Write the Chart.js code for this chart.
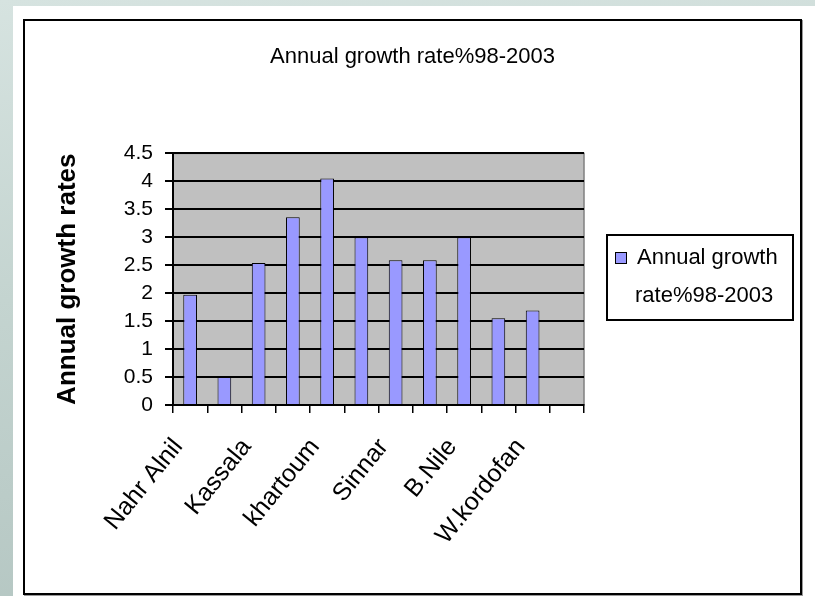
<!DOCTYPE html>
<html>
<head>
<meta charset="utf-8">
<script src="https://cdn.jsdelivr.net/npm/chart.js@4.4.1/dist/chart.umd.min.js"></script>
<style>
  html, body { margin: 0; padding: 0; }
  body {
    width: 815px; height: 596px; overflow: hidden; position: relative;
    background: linear-gradient(175deg, #d6e3e0 0%, #c4d4d0 45%, #b3c5c1 100%);
  }
  .sheet {
    position: absolute; left: 13px; top: 6px; right: 0; bottom: 0;
    background: #fff;
  }
  .frame {
    position: absolute; left: 23px; top: 19px; width: 775px; height: 572px;
    border: 2px solid #000; background: #fff;
    box-shadow: 1px 1px 0 #999;
  }
  canvas { display: block; }
</style>
</head>
<body>
<div class="sheet"></div>
<div class="frame"><canvas id="chart" width="775" height="572"></canvas></div>
<script>
// states along the x axis (only every other name is printed)
const states = ['Nahr Alnil', 'Red Sea', 'Kassala', 'Gedarif', 'khartoum', 'Gezira',
                'Sinnar', 'W.Nile', 'B.Nile', 'N.kordofan', 'W.kordofan', 'S.kordofan'];
const growthRates = [1.97, 0.5, 2.54, 3.36, 4.05, 3.0, 2.59, 2.59, 3.0, 1.55, 1.69, null];
const yTicks = [0, 0.5, 1, 1.5, 2, 2.5, 3, 3.5, 4, 4.5];
const seriesName = 'Annual growth rate%98-2003';

const FONT = 'Arial, "Liberation Sans", sans-serif';
const BAR_FILL = '#9999ff';

// grey plot area like an old spreadsheet chart
const plotBackground = {
  id: 'plotBackground',
  beforeDraw(chart) {
    const { ctx, chartArea: a } = chart;
    ctx.save();
    ctx.fillStyle = '#c0c0c0';
    ctx.fillRect(a.left, a.top, a.right - a.left, a.bottom - a.top);
    ctx.strokeStyle = '#808080';
    ctx.lineWidth = 1.5;
    ctx.strokeRect(a.left, a.top, a.right - a.left, a.bottom - a.top);
    ctx.restore();
  }
};

// boxed legend on the right, label wrapped onto two lines
function wrapText(ctx, text, maxWidth) {
  const words = text.split(' ');
  const lines = [];
  let line = '';
  words.forEach(w => {
    const test = line ? line + ' ' + w : w;
    if (line && ctx.measureText(test).width > maxWidth) {
      lines.push(line);
      line = w;
    } else {
      line = test;
    }
  });
  if (line) lines.push(line);
  return lines;
}

const sideLegend = {
  id: 'sideLegend',
  beforeInit(chart) {
    const box = {
      position: 'right',
      weight: 0,
      fullSize: false,
      options: {},
      width: 0,
      height: 0,
      isHorizontal() { return false; },
      update(maxWidth, maxHeight) {
        this.width = 216;
        this.height = maxHeight;
      },
      draw() {
        const ctx = chart.ctx;
        const ds = chart.data.datasets[0];
        const x = this.left + 23;
        const w = 186, h = 85;
        const y = Math.round((this.top + this.bottom) / 2 - 44);
        ctx.save();
        ctx.fillStyle = '#fff';
        ctx.fillRect(x, y, w, h);
        ctx.strokeStyle = '#000';
        ctx.lineWidth = 2;
        ctx.strokeRect(x, y, w, h);

        ctx.fillStyle = ds.backgroundColor;
        ctx.fillRect(x + 8.5, y + 17.5, 11, 11);
        ctx.lineWidth = 1;
        ctx.strokeRect(x + 8.5, y + 17.5, 11, 11);

        ctx.font = '22px ' + FONT;
        ctx.fillStyle = '#000';
        ctx.textBaseline = 'middle';
        const lines = wrapText(ctx, ds.label, 160);
        lines.forEach((ln, i) => {
          ctx.fillText(ln, x + 30 - i * 2, y + 23 + i * 38);
        });
        ctx.restore();
      }
    };
    Chart.layouts.addBox(chart, box);
  }
};

new Chart(document.getElementById('chart').getContext('2d'), {
  type: 'bar',
  data: {
    labels: states,
    datasets: [{
      label: seriesName,
      data: growthRates,
      backgroundColor: BAR_FILL,
      borderColor: '#000',
      borderWidth: 1,
      categoryPercentage: 1,
      barPercentage: 0.4
    }]
  },
  options: {
    responsive: false,
    animation: false,
    devicePixelRatio: 1,
    layout: { padding: 0 },
    plugins: {
      legend: { display: false },
      tooltip: { enabled: false },
      title: {
        display: true,
        text: seriesName,
        color: '#000',
        font: { family: FONT, size: 22, weight: 'normal' },
        padding: { top: 23, bottom: 83 }
      }
    },
    scales: {
      x: {
        afterFit(scale) { scale.height = 188; },
        grid: {
          display: true,
          offset: true,
          drawOnChartArea: false,
          drawTicks: true,
          tickLength: 8,
          color: '#000',
          lineWidth: 1.5
        },
        border: { display: true, color: '#000', width: 2 },
        ticks: {
          autoSkip: false,
          minRotation: 51,
          maxRotation: 51,
          padding: 20,
          labelOffset: -12,
          color: '#000',
          font: { family: FONT, size: 25 },
          callback: (v, i) => (i % 2 === 0 ? states[i] : '')
        }
      },
      y: {
        min: yTicks[0],
        max: yTicks[yTicks.length - 1],
        afterFit(scale) { scale.width = 148; },
        afterBuildTicks(scale) { scale.ticks = yTicks.map(v => ({ value: v })); },
        grid: { color: '#000', lineWidth: 2, tickLength: 8 },
        border: { display: true, color: '#000', width: 2 },
        ticks: {
          autoSkip: false,
          padding: 12,
          color: '#000',
          font: { family: FONT, size: 21 },
          callback: v => String(v)
        },
        title: {
          display: true,
          text: 'Annual growth rates',
          color: '#000',
          font: { family: FONT, size: 26, weight: 'bold' },
          padding: { top: 27, bottom: 0 }
        }
      }
    }
  },
  plugins: [plotBackground, sideLegend]
});
</script>
</body>
</html>
